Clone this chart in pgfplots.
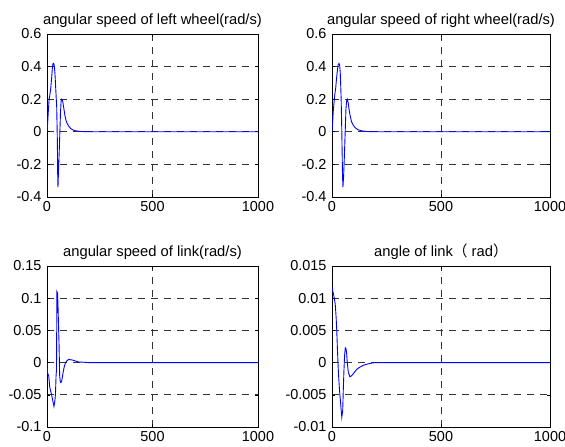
\documentclass[border=0pt]{standalone}
\usepackage{fontspec}
\setmainfont{Liberation Sans}
\newfontfamily\cjk{Noto Sans CJK SC}
\usepackage{pgfplots}
\pgfplotsset{compat=1.18}

\pgfplotsset{
    mlab/.style = {
        scale only axis,
        anchor = south west,
        xmin = 0, xmax = 1000,
        xtick = {0, 500, 1000},
        xticklabels = {0, 500, 1000},
        scaled y ticks = false,
        grid = major,
        grid style = {black!80, line width = 0.9pt, dash pattern = on 7bp off 6bp},
        axis line style = {black, line width = 0.9pt},
        tick style = {black, line width = 0.6pt},
        tick align = inside,
        major tick length = 3bp,
        tick label style = {font = \fontsize{14.5}{16}\selectfont},
        xticklabel style = {yshift = -1bp},
        yticklabel style = {xshift = -2bp},
        title style = {font = \fontsize{14.8}{16}\selectfont, yshift = -3bp},
        no markers,
        every axis plot post/.append style = {blue, line width = 0.9pt}
    }
}

\begin{document}
\begin{tikzpicture}
\useasboundingbox (0bp,0bp) rectangle (565bp,447bp);

% top left
\begin{axis}[mlab, at = {(47bp,250bp)},
    width = 211bp, height = 163bp,
    ymin = -0.4, ymax = 0.6,
    ytick = {-0.4,-0.2,0,0.2,0.4,0.6},
    yticklabels = {-0.4,-0.2,0,0.2,0.4,0.6},
    title = {angular speed of left wheel(rad/s)}]
\addplot coordinates {(0,0) (3,0.05) (6,0.12) (10,0.2) (14,0.23) (18,0.27) (22,0.33)
 (26,0.40) (29,0.42) (32,0.42) (35,0.40) (38,0.35) (42,0.25) (46,0.15) (49,-0.05)
 (51,-0.30) (52,-0.34) (55,-0.22) (58,-0.12) (61,0.0) (64,0.12) (67,0.19) (70,0.20)
 (74,0.19) (79,0.15) (85,0.10) (90,0.07) (96,0.05) (103,0.035) (112,0.02) (125,0.01)
 (140,0.005) (160,0.002) (200,0) (300,0) (1000,0)};
\end{axis}

% top right
\begin{axis}[mlab, at = {(332bp,250bp)},
    width = 218bp, height = 163bp,
    ymin = -0.4, ymax = 0.6,
    ytick = {-0.4,-0.2,0,0.2,0.4,0.6},
    yticklabels = {-0.4,-0.2,0,0.2,0.4,0.6},
    title = {angular speed of right wheel(rad/s)}]
\addplot coordinates {(0,0) (3,0.06) (6,0.13) (12,0.22) (17,0.27) (21,0.33) (25,0.38)
 (28,0.41) (32,0.42) (35,0.41) (38,0.36) (42,0.2) (45,0.0) (48,-0.25) (50,-0.34)
 (53,-0.28) (56,-0.18) (60,-0.02) (64,0.14) (67,0.19) (70,0.2) (74,0.18) (78,0.14)
 (83,0.1) (90,0.06) (98,0.04) (106,0.025) (120,0.012) (140,0.005) (160,0.002)
 (200,0) (1000,0)};
\end{axis}

% bottom left
\begin{axis}[mlab, at = {(47bp,20bp)},
    width = 211bp, height = 161bp,
    ymin = -0.1, ymax = 0.15,
    ytick = {-0.1,-0.05,0,0.05,0.1,0.15},
    yticklabels = {-0.1,-0.05,0,0.05,0.1,0.15},
    title = {angular speed of link(rad/s)}]
\addplot coordinates {(0,0) (3,-0.017) (8,-0.02) (13,-0.038) (19,-0.046) (25,-0.055)
 (29,-0.062) (33,-0.068) (37,-0.06) (40,-0.05) (43,-0.02) (45,-0.012) (47,0.11)
 (50,0.108) (52,0.09) (54,0.065) (57,0.03) (60,-0.02) (63,-0.03) (66,-0.031)
 (70,-0.028) (76,-0.016) (82,-0.006) (88,0.0) (95,0.003) (103,0.005) (111,0.0045)
 (120,0.004) (135,0.0025) (150,0.001) (200,0) (1000,0)};
\end{axis}

% bottom right
\begin{axis}[mlab, at = {(332bp,20bp)},
    width = 218bp, height = 161bp,
    ymin = -0.01, ymax = 0.015,
    ytick = {-0.01,-0.005,0,0.005,0.01,0.015},
    yticklabels = {-0.01,-0.005,0,0.005,0.01,0.015},
    title = {angle of link{\cjk （} rad{\cjk ）}}]
\addplot coordinates {(0,0.0118) (4,0.011) (9,0.0103) (15,0.009) (19,0.007)
 (22,0.0048) (25,0.002) (28,-0.0005) (31,-0.0025) (35,-0.0045) (40,-0.0065)
 (45,-0.0085) (49,-0.0075) (52,-0.004) (55,-0.001) (58,0.0012) (61,0.0023)
 (64,0.0022) (67,0.0015) (70,0.0) (75,-0.0015) (82,-0.0022) (88,-0.0021)
 (96,-0.0018) (105,-0.0014) (115,-0.001) (128,-0.0007) (145,-0.0004)
 (165,-0.0002) (185,-0.00005) (200,0) (1000,0)};
\end{axis}
\end{tikzpicture}
\end{document}
